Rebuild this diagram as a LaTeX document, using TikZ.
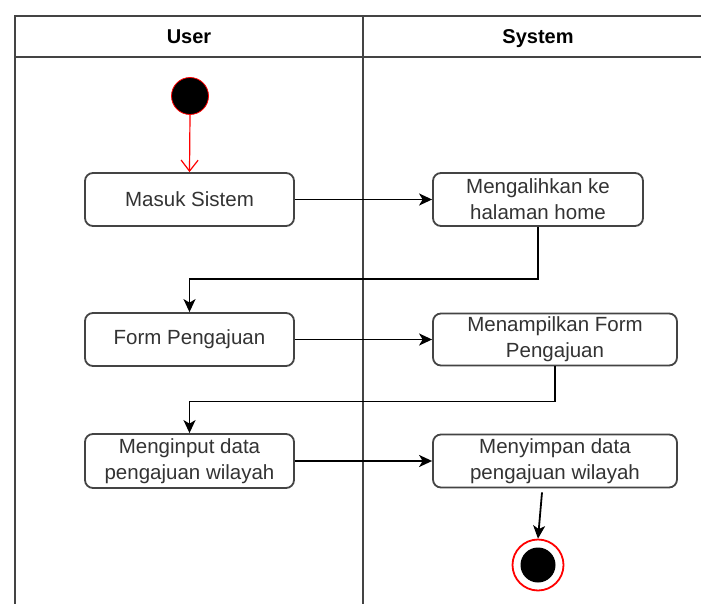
\documentclass[tikz,border=0pt]{standalone}
\usepackage{fontspec}
\setmainfont{Liberation Sans}
\usetikzlibrary{arrows.meta,calc}
\definecolor{linegray}{HTML}{444444}
\definecolor{textgray}{HTML}{333333}
\tikzset{
  actbox/.style={draw=linegray, line width=1.8pt, rounded corners=8pt, fill=white,
    text=textgray, align=center, inner sep=0pt,
    font=\fontsize{20.5}{26}\selectfont},
  flow/.style={draw=black, line width=1.8pt, -{Stealth[length=13pt,width=12pt,inset=3.5pt]}},
  startflow/.style={draw=red, line width=1.2pt, -{Straight Barb[length=11pt,width=17pt,line width=1.2pt]}},
  lane/.style={draw=linegray, line width=1.8pt},
  lanehead/.style={text=black, text height=14pt, text depth=4pt, inner sep=0pt,
    font=\bfseries\fontsize{20}{24}\selectfont},
}
\begin{document}
\begin{tikzpicture}[x=1pt,y=-1pt]
\useasboundingbox (0,0) rectangle (701,604);
% swimlane frame
\draw[lane] (15,604) -- (15,16) -- (701,16);
\draw[lane] (15,57) -- (701,57);
\draw[lane] (363,16) -- (363,604);
\node[lanehead] (huser) at (189,39) {User};
\node[lanehead] (hsys) at (538,39) {System};
% start and end
\node[circle, fill=black, draw=red, line width=0.8pt, minimum size=37pt, inner sep=0pt] (start) at (190,96) {};
\node[circle, fill=white, draw=red, line width=1.8pt, minimum size=51pt, inner sep=0pt] (end) at (538,565) {};
\node[circle, fill=black, minimum size=35pt, inner sep=0pt] (endin) at (538,565) {};
% activities
\node[actbox, minimum width=209pt, minimum height=53pt] (masuk) at (189.5,199.5) {Masuk Sistem};
\node[actbox, minimum width=210pt, minimum height=53pt] (alih) at (538,199.5) {Mengalihkan ke\\halaman home};
\node[actbox, minimum width=209pt, minimum height=53pt] (form) at (189.5,339.5) {Form Pengajuan};
\node[actbox, minimum width=244pt, minimum height=52pt] (tampil) at (555,339.5) {Menampilkan Form\\Pengajuan};
\node[actbox, minimum width=209pt, minimum height=54pt] (input) at (189.5,461) {Menginput data\\pengajuan wilayah};
\node[actbox, minimum width=244pt, minimum height=53pt] (simpan) at (555,461) {Menyimpan data\\pengajuan wilayah};
% connectors
\draw[startflow] (start.south) -- (masuk.north);
\draw[flow] (masuk.east) -- (alih.west);
\draw[flow] (alih.south) -- ++(0,52) -| (form.north);
\draw[flow] (form.east) -- (tampil.west);
\draw[flow] (tampil.south) -- ++(0,35) -| (input.north);
\draw[flow] (input.east) -- (simpan.west);
\draw[flow] ($(simpan.south)+(-13,4)$) -- (end.north);
\end{tikzpicture}
\end{document}
